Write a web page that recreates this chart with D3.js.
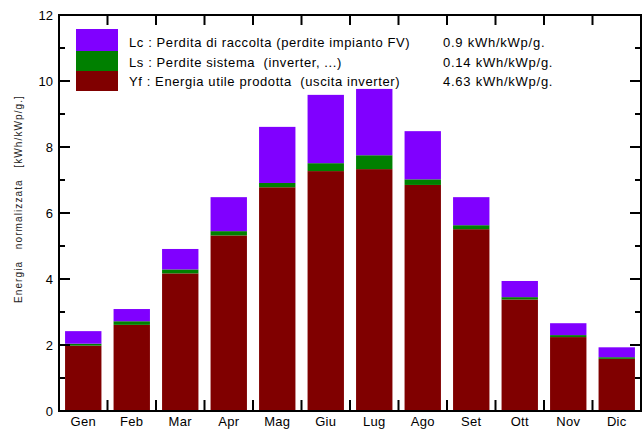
<!DOCTYPE html>
<html>
<head>
<meta charset="utf-8">
<script src="https://cdn.jsdelivr.net/npm/d3@7"></script>
<style>
body { margin: 0; background: #fff; }
svg text { font-family: "Liberation Sans", Arial, sans-serif; }
</style>
</head>
<body>
<svg id="chart" width="643" height="430"></svg>
<script>
var months = ["Gen", "Feb", "Mar", "Apr", "Mag", "Giu", "Lug", "Ago", "Set", "Ott", "Nov", "Dic"];
// Yf : energia utile prodotta
var yf = [1.98, 2.61, 4.17, 5.32, 6.78, 7.27, 7.33, 6.85, 5.51, 3.38, 2.24, 1.58];
// Ls : perdite sistema
var ls = [0.06, 0.11, 0.12, 0.13, 0.13, 0.24, 0.42, 0.17, 0.12, 0.07, 0.06, 0.05];
// Lc : perdita di raccolta
var lc = [0.38, 0.37, 0.62, 1.03, 1.70, 2.07, 2.01, 1.46, 0.85, 0.49, 0.36, 0.30];
var yTicks = [0, 2, 4, 6, 8, 10, 12];
var legendLabels = [
    "Lc : Perdita di raccolta (perdite impianto FV)",
    "Ls : Perdite sistema  (inverter, ...)",
    "Yf : Energia utile prodotta  (uscita inverter)"
];
var legendValues = ["0.9 kWh/kWp/g.", "0.14 kWh/kWp/g.", "4.63 kWh/kWp/g."];

var vis = d3.select("#chart"),
    MARGINS = { top: 15, right: 2, bottom: 19, left: 59 },
    WIDTH = 643,
    HEIGHT = 430;

var table = months.map(function (m, i) {
    return { month: m, yf: yf[i], ls: ls[i], lc: lc[i] };
});
var keys = ["yf", "ls", "lc"];
var colors = { yf: "#800000", ls: "#008000", lc: "#8000ff" };

var xScale = d3.scaleBand()
    .domain(months)
    .range([MARGINS.left, WIDTH - MARGINS.right])
    .paddingInner(0.25)
    .paddingOuter(0.125);

var yScale = d3.scaleLinear()
    .domain([0, 12])
    .range([HEIGHT - MARGINS.bottom, MARGINS.top]);

var stacked = d3.stack().keys(keys)(table);

vis.append("g")
    .selectAll("g")
    .data(stacked)
    .enter().append("g")
    .attr("fill", function (d) { return colors[d.key]; })
    .selectAll("rect")
    .data(function (d) { return d; })
    .enter().append("rect")
    .attr("x", function (d) { return xScale(d.data.month); })
    .attr("width", xScale.bandwidth())
    .attr("y", function (d) { return yScale(d[1]); })
    .attr("height", function (d) { return yScale(d[0]) - yScale(d[1]); });

var x0 = MARGINS.left, x1 = WIDTH - MARGINS.right;
var y0 = yScale(0), y1 = yScale(12);

// category boundaries for top/bottom ticks
var step = xScale.step();
var bounds = d3.range(1, months.length).map(function (i) {
    return xScale(months[i]) - xScale.paddingInner() * step / 2;
});

var minor = d3.range(1, 12, 2);

var axes = vis.append("g").attr("stroke", "#000").attr("stroke-width", 2);

// left axis ticks
axes.selectAll(".lmaj").data(yTicks.slice(1, -1)).enter().append("line")
    .attr("x1", x0).attr("x2", x0 + 11)
    .attr("y1", function (d) { return yScale(d); })
    .attr("y2", function (d) { return yScale(d); });
axes.selectAll(".lmin").data(minor).enter().append("line")
    .attr("x1", x0).attr("x2", x0 + 6)
    .attr("y1", function (d) { return yScale(d); })
    .attr("y2", function (d) { return yScale(d); });
// right axis ticks
axes.selectAll(".rmaj").data(yTicks.slice(1, -1)).enter().append("line")
    .attr("x1", x1).attr("x2", x1 - 11)
    .attr("y1", function (d) { return yScale(d); })
    .attr("y2", function (d) { return yScale(d); });
axes.selectAll(".rmin").data(minor).enter().append("line")
    .attr("x1", x1).attr("x2", x1 - 6)
    .attr("y1", function (d) { return yScale(d); })
    .attr("y2", function (d) { return yScale(d); });
// top and bottom ticks
axes.selectAll(".top").data(bounds).enter().append("line")
    .attr("x1", function (d) { return d; }).attr("x2", function (d) { return d; })
    .attr("y1", y1).attr("y2", y1 + 10);
axes.selectAll(".bot").data(bounds).enter().append("line")
    .attr("x1", function (d) { return d; }).attr("x2", function (d) { return d; })
    .attr("y1", y0).attr("y2", y0 - 11);

axes.append("rect")
    .attr("x", x0).attr("y", y1)
    .attr("width", x1 - x0).attr("height", y0 - y1)
    .attr("fill", "none");

// y tick labels
vis.append("g").selectAll("text").data(yTicks).enter().append("text")
    .attr("x", x0 - 6)
    .attr("y", function (d) { return yScale(d) + 4.5; })
    .attr("text-anchor", "end")
    .attr("font-size", 13)
    .text(function (d) { return d; });

// month labels
vis.append("g").selectAll("text").data(months).enter().append("text")
    .attr("x", function (d) { return xScale(d) + xScale.bandwidth() / 2; })
    .attr("y", y0 + 15)
    .attr("text-anchor", "middle")
    .attr("font-size", 13)
    .attr("letter-spacing", 0.3)
    .text(function (d) { return d; });

// y axis title
vis.append("text")
    .attr("transform", "translate(22,199) rotate(-90)")
    .attr("text-anchor", "middle")
    .attr("font-size", 10)
    .attr("letter-spacing", 1.1)
    .attr("fill", "#222")
    .style("white-space", "pre")
    .text("Energia   normalizzata   [kWh/kWp/g.]");

// legend
var legKeys = ["lc", "ls", "yf"];
var swTop = [29, 51, 71], swH = [22, 20, 20];
var leg = vis.append("g");
legKeys.forEach(function (k, i) {
    leg.append("rect")
        .attr("x", 76).attr("y", swTop[i])
        .attr("width", 42).attr("height", swH[i])
        .attr("fill", colors[k]);
    leg.append("text")
        .attr("x", 129).attr("y", 47 + i * 19.5)
        .attr("font-size", 13)
        .attr("letter-spacing", 0.6)
        .style("white-space", "pre")
        .text(legendLabels[i]);
    leg.append("text")
        .attr("x", 443).attr("y", 47 + i * 19.5)
        .attr("font-size", 13)
        .attr("letter-spacing", 0.75)
        .text(legendValues[i]);
});
</script>
</body>
</html>
